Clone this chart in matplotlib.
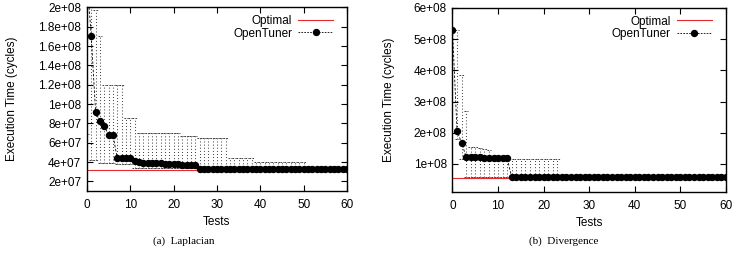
import numpy as np
import matplotlib.pyplot as plt
from matplotlib.lines import Line2D

plt.rcParams['font.family'] = ['Liberation Sans', 'DejaVu Sans']

# Données (en millions de cycles), essais 0..60
tests = list(range(61))

lap_optimal = 32
lap_mean = [230, 170, 92, 82, 77, 68, 68, 44, 44, 44, 44, 41, 40, 39, 39, 39,
            39, 39, 38, 38, 38, 38, 37, 37, 37, 37, 33, 33, 33, 33, 33, 33,
            33, 33, 33, 33, 33, 33, 33, 33, 33, 33, 33, 33, 33, 33, 33, 33,
            33, 33, 33, 33, 33, 33, 33, 33, 33, 33, 33, 33, 33]
lap_hi = [260, 210, 197, 170, 120, 120, 120, 120, 120, 86, 86, 86, 70, 70, 70, 70,
          70, 70, 70, 70, 70, 70, 67, 67, 67, 67, 65, 65, 65, 65, 65, 65,
          65, 44, 44, 44, 44, 44, 44, 40, 40, 40, 40, 40, 40, 40, 40, 40,
          40, 40, 40, 33, 33, 33, 33, 33, 33, 33, 33, 33, 33]
lap_lo = [69, 42, 42, 39, 39, 39, 39, 38, 38, 38, 38, 34, 34, 34, 34, 34,
          34, 34, 34, 34, 34, 34, 34, 34, 34, 34, 32, 32, 32, 32, 32, 32,
          32, 32, 32, 32, 32, 32, 32, 32, 32, 32, 32, 32, 32, 32, 32, 32,
          32, 32, 32, 32, 32, 32, 32, 32, 32, 32, 32, 32, 32]

div_optimal = 56
div_mean = [530, 205, 168, 122, 122, 122, 121, 120, 120, 119, 119, 118, 118, 57, 57, 57,
            57, 57, 57, 57, 57, 57, 57, 57, 57, 57, 57, 57, 57, 57, 57, 57,
            57, 57, 57, 57, 57, 57, 57, 57, 57, 57, 57, 57, 57, 57, 57, 57,
            57, 57, 57, 57, 57, 57, 57, 57, 57, 57, 57, 57, 57]
div_hi = [530, 530, 385, 270, 155, 153, 150, 148, 145, 122, 122, 122, 122, 116, 116, 116,
          116, 116, 116, 116, 116, 116, 116, 116, 57, 57, 57, 57, 57, 57, 57, 57,
          57, 57, 57, 57, 57, 57, 57, 57, 57, 57, 57, 57, 57, 57, 57, 57,
          57, 57, 57, 57, 57, 57, 57, 57, 57, 57, 57, 57, 57]
div_lo = [530, 180, 117, 58, 58, 58, 58, 58, 58, 58, 58, 58, 58, 58, 58, 58,
          58, 58, 58, 58, 58, 58, 58, 58, 57, 57, 57, 57, 57, 57, 57, 57,
          57, 57, 57, 57, 57, 57, 57, 57, 57, 57, 57, 57, 57, 57, 57, 57,
          57, 57, 57, 57, 57, 57, 57, 57, 57, 57, 57, 57, 57]

lap_yticks = [20, 40, 60, 80, 100, 120, 140, 160, 180, 200]
lap_ylabels = ['2e+07', '4e+07', '6e+07', '8e+07', '1e+08', '1.2e+08',
               '1.4e+08', '1.6e+08', '1.8e+08', '2e+08']
div_yticks = [100, 200, 300, 400, 500, 600]
div_ylabels = ['1e+08', '2e+08', '3e+08', '4e+08', '5e+08', '6e+08']

ROUGE = '#e8292b'


def tracer(ax, moy, haut, bas, optimal, ylim, yticks, ylabels, xlab):
    x = np.array(tests)
    ax.axhline(optimal, color=ROUGE, lw=0.8, zorder=1)
    # barres d'erreur pointillées + chapeaux tiretés
    ax.vlines(x, bas, haut, colors='#222222', linestyles=(0, (0.8, 2.2)), lw=0.75, zorder=2)
    ax.hlines(haut, x - 0.5, x + 0.5, colors='#222222', linestyles=(0, (2, 1.5)), lw=0.6, zorder=2)
    ax.hlines(bas, x - 0.5, x + 0.5, colors='#222222', linestyles=(0, (2, 1.5)), lw=0.6, zorder=2)
    ax.plot(x, moy, color='black', ls=(0, (3, 2)), lw=0.6, marker='o',
            markersize=4.3, zorder=3)
    ax.set_xlim(0, 60)
    ax.set_ylim(*ylim)
    ax.set_xticks(range(0, 61, 10))
    ax.set_yticks(yticks)
    ax.set_yticklabels(ylabels)
    ax.tick_params(direction='in', top=True, right=True, labelsize=8.5,
                   length=4, width=0.8, pad=4)
    ax.tick_params(axis='x', pad=6)
    for s in ax.spines.values():
        s.set_linewidth(1.0)
    ax.set_xlabel('Tests', fontsize=8.5, labelpad=3)
    ax.set_ylabel('Execution Time (cycles)', fontsize=8.5)
    ax.yaxis.set_label_coords(xlab, 0.5)
    poignees = [Line2D([], [], color=ROUGE, lw=0.8),
                Line2D([], [], color='black', ls=(0, (2, 1.5)), lw=0.6,
                       marker='o', markersize=4.3)]
    ax.legend(poignees, ['Optimal', 'OpenTuner'], loc='upper right',
              bbox_to_anchor=(0.977, 1.0),
              frameon=False, markerfirst=False, fontsize=8.5,
              handlelength=3.0, handletextpad=0.5, labelspacing=0.05,
              borderaxespad=0.3, borderpad=0.35)


fig = plt.figure(figsize=(7.43, 2.54), dpi=100)
ax1 = fig.add_axes([0.117, 0.248, 0.350, 0.723])
ax2 = fig.add_axes([0.609, 0.244, 0.368, 0.725])

tracer(ax1, lap_mean, lap_hi, lap_lo, lap_optimal, (10, 200), lap_yticks, lap_ylabels, -0.265)
tracer(ax2, div_mean, div_hi, div_lo, div_optimal, (10, 600), div_yticks, div_ylabels, -0.21)

fig.text(0.247, 0.04, '(a)  Laplacian', ha='center', fontsize=8,
         family='Liberation Serif')
fig.text(0.758, 0.04, '(b)  Divergence', ha='center', fontsize=8,
         family='Liberation Serif')

fig.savefig('out.png', dpi=100)
